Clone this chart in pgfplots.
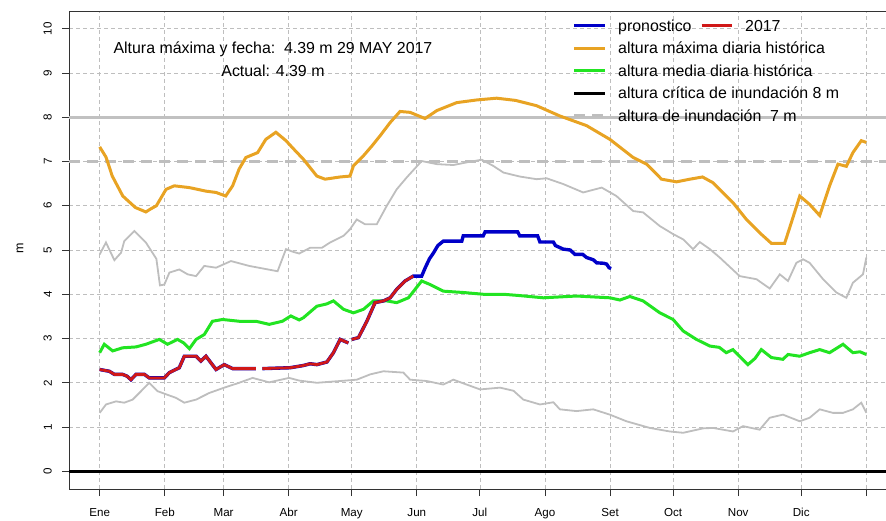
\documentclass[border=0pt]{standalone}
\usepackage{fontspec}
\setmainfont{Liberation Sans}
\usepackage{pgfplots}
\pgfplotsset{compat=1.18}
\definecolor{cOrange}{RGB}{232,163,35}
\definecolor{cGreen}{RGB}{34,228,34}
\definecolor{cBlue}{RGB}{0,0,200}
\definecolor{cRed}{RGB}{208,24,24}
\definecolor{cGray}{RGB}{190,190,190}
\newcommand{\legfont}{\fontsize{15.9}{18}\selectfont}
\newcommand{\tickfont}{\fontsize{11.6}{13}\selectfont}
\begin{document}
\begin{tikzpicture}[x=1pt,y=1pt]
\useasboundingbox (0,0) rectangle (886,520);
\begin{axis}[
  at={(69pt,31pt)}, anchor=south west,
  scale only axis, width=828pt, height=478pt,
  xmin=-14.6, xmax=379.6, ymin=-0.4, ymax=10.4,
  axis line style={black!80, line width=0.8pt},
  xtick={0,31,59,90,120,151,181,212,243,273,304,334,365},
  xticklabels={Ene,Feb,Mar,Abr,May,Jun,Jul,Ago,Set,Oct,Nov,Dic,{}},
  ytick={0,1,2,3,4,5,6,7,8,9,10},
  /pgf/number format/assume math mode=true,
  xtick pos=bottom, ytick pos=left,
  tick align=outside, major tick length=7pt,
  tick style={black!80, line width=0.8pt},
  tick label style={font=\tickfont},
  xticklabel style={anchor=base, inner sep=0pt, yshift=-20pt},
  yticklabel style={xshift=-10pt, rotate=90, anchor=south, inner sep=0pt},
  grid=major,
  grid style={cGray, dash pattern=on 4pt off 3pt, line width=0.7pt},
  ylabel={m},
  ylabel style={at={(axis description cs:-0.0592,0.504)}, anchor=center, font=\fontsize{12.5}{14}\selectfont},
  unbounded coords=jump,
  clip=true,
]
% reference lines
\addplot[black, line width=2.5pt] coordinates {(-14.6,0) (379.6,0)};
\addplot[cGray!95, line width=2.8pt] coordinates {(-14.6,8) (379.6,8)};
\addplot[cGray, line width=2.8pt, dash pattern=on 11pt off 7pt] coordinates {(-14.6,7) (379.6,7)};
% upper gray
\addplot[cGray, line width=1.8pt] coordinates {
(0,4.9)(3,5.17)(7,4.77)(10.2,4.94)(11.7,5.2)(16.5,5.43)(22,5.17)(27,4.8)(28.7,4.2)(30.8,4.22)
(33.2,4.49)(37.9,4.56)(41.9,4.45)(45.9,4.41)(49.8,4.64)(55.4,4.6)(62.5,4.75)(71.2,4.64)(84.7,4.52)
(88.7,5.02)(92,4.96)(95,4.92)(100.2,5.05)(105.8,5.05)(109.7,5.17)(116.1,5.32)(119.2,5.47)(122.4,5.69)
(126.4,5.58)(131.9,5.58)(136.7,6.0)(141.4,6.37)(146.2,6.64)(153.3,7.01)(160.5,6.94)(168.4,6.92)
(174.7,6.98)(181.9,7.04)(187.4,6.9)(192.2,6.75)(200,6.66)(208,6.6)(212.8,6.62)(220.7,6.49)(230.2,6.3)
(239,6.41)(246,6.22)(254,5.88)(258.7,5.85)(266.7,5.54)(273,5.36)(277.8,5.24)(282.5,5.02)(285.7,5.18)
(290.5,5.02)(295.2,4.83)(304.7,4.41)(312.7,4.34)(319,4.13)(323.8,4.45)(327.7,4.3)(331.7,4.71)
(334.9,4.79)(338,4.71)(344.4,4.34)(350.7,4.04)(355.5,3.92)(358.6,4.26)(363.4,4.45)(365,4.83)};
% lower gray
\addplot[cGray, line width=1.8pt] coordinates {
(0,1.32)(3,1.51)(7.8,1.58)(11.7,1.55)(15.7,1.62)(19.7,1.81)(23.6,2.0)(27.6,1.81)(31.6,1.74)(36.3,1.66)
(40.3,1.55)(45.9,1.62)(52.2,1.77)(59.3,1.89)(66.4,2.0)(72.8,2.11)(80.7,2.01)(90.2,2.11)(95,2.05)
(103.4,2.0)(114.5,2.04)(122.4,2.07)(128.8,2.19)(135.1,2.26)(144.6,2.23)(147.8,2.07)(155.7,2.04)
(163.6,1.96)(168.4,2.07)(174.7,1.96)(181.1,1.85)(190.6,1.89)(197,1.82)(201.7,1.62)(209.6,1.51)
(216,1.56)(219.1,1.40)(227,1.36)(235,1.40)(242.9,1.28)(250.8,1.13)(261.9,0.98)(271.4,0.9)(277.8,0.87)
(287.3,0.97)(292,0.98)(301.5,0.9)(306.3,1.02)(314.2,0.94)(319,1.21)(325.3,1.28)(333.3,1.13)(338,1.21)
(342.8,1.4)(349.1,1.32)(353.9,1.32)(358.6,1.4)(362.6,1.55)(365,1.32)};
% max historica
\addplot[cOrange, line width=3pt] coordinates {
(0,7.33)(3,7.1)(6,6.67)(11,6.22)(17,5.96)(22,5.86)(24,5.92)(27,6.0)(31.6,6.37)(35.5,6.45)(42.7,6.41)
(50.6,6.33)(55.4,6.30)(60,6.22)(63.3,6.45)(66.4,6.83)(69.6,7.09)(75.2,7.2)(79.1,7.5)(83.9,7.66)
(88.7,7.47)(92,7.3)(97,7.05)(103.4,6.67)(107.3,6.6)(114.5,6.65)(119.2,6.67)(120.8,6.9)(125.6,7.13)
(129.6,7.35)(133.5,7.58)(138.3,7.88)(143,8.13)(147.8,8.11)(154.9,7.97)(160.5,8.15)(170,8.33)
(179.5,8.39)(189,8.43)(198,8.38)(208,8.26)(219,8.03)(231.8,7.81)(242.9,7.5)(254,7.09)(260.4,6.94)
(267.5,6.6)(274.6,6.54)(281,6.6)(287,6.65)(292,6.52)(301.5,6.07)(307.9,5.69)(314.2,5.39)(319.8,5.15)
(326.1,5.15)(329.3,5.62)(333.3,6.22)(338,6.03)(342.8,5.78)(347.5,6.45)(351.5,6.94)(355.5,6.89)
(358.6,7.2)(362.6,7.47)(365,7.43)};
% media historica
\addplot[cGreen, line width=3pt] coordinates {
(0,2.68)(2.2,2.87)(6.2,2.72)(10.9,2.79)(17.3,2.81)(22,2.87)(28.4,2.98)(32.3,2.87)(37.1,2.98)(40,2.9)
(42.7,2.77)(45.9,2.98)(49.8,3.09)(53.7,3.39)(58.5,3.43)(66.4,3.39)(74.4,3.39)(80.7,3.32)(87,3.39)
(91,3.51)(95,3.42)(97,3.47)(103.4,3.73)(108,3.78)(111.3,3.85)(116.1,3.66)(120.8,3.58)(125.6,3.66)
(130.3,3.85)(136.7,3.85)(141.4,3.81)(147,3.92)(153.3,4.3)(157.3,4.22)(163.6,4.07)(173.1,4.04)
(182.6,4.0)(192.2,4.0)(200,3.97)(211.2,3.92)(227,3.96)(242.9,3.92)(247.7,3.87)(252.4,3.95)(258.7,3.85)
(266.7,3.58)(273,3.43)(277.8,3.17)(284.1,2.98)(290.5,2.83)(295,2.8)(298.3,2.68)(301.5,2.75)(308.6,2.41)
(312,2.55)(315,2.75)(319.8,2.57)(325.3,2.53)(327.7,2.64)(333.3,2.60)(338,2.68)(342.8,2.75)(347.5,2.68)
(353.9,2.87)(358.6,2.68)(362,2.7)(365,2.64)};
% pronostico
\addplot[cBlue, line width=3.4pt] coordinates {
(0,2.30)(4.6,2.26)(7,2.19)(10.9,2.19)(13,2.15)(14.9,2.07)(17.3,2.19)(21.3,2.19)(23.6,2.11)(30.8,2.11)
(33.2,2.23)(37.9,2.34)(40.3,2.6)(45.9,2.6)(48.2,2.49)(50.6,2.6)(55.4,2.3)(59.3,2.41)(63.3,2.32)(74.4,2.32)
(75.5,nan)(77.5,2.32)(90.7,2.34)(97,2.39)(100.2,2.43)(103.4,2.41)(108.2,2.47)(111.3,2.68)(114.5,2.98)
(118.4,2.9)(119.2,nan)(120,2.98)(123.2,3.02)(127.2,3.39)(131.1,3.81)(135.1,3.85)(138.3,3.92)(141.4,4.11)
(145.4,4.3)(149.3,4.41)(153.3,4.41)(155,4.6)(157,4.8)(159,4.94)(161,5.1)(163.6,5.2)(172.4,5.2)
(173.1,5.32)(182.6,5.32)(183.5,5.41)(199,5.41)(200,5.32)(208.5,5.32)(209.6,5.18)(216,5.18)(217,5.1)
(220.7,5.02)(224,5.0)(226.3,4.9)(230,4.9)(231.8,4.83)(235,4.78)(236.6,4.71)(240,4.7)(241.4,4.68)
(242.5,4.6)(243.5,4.58)};
% 2017
\addplot[cRed, line width=2.8pt] coordinates {
(0,2.30)(4.6,2.26)(7,2.19)(10.9,2.19)(13,2.15)(14.9,2.07)(17.3,2.19)(21.3,2.19)(23.6,2.11)(30.8,2.11)
(33.2,2.23)(37.9,2.34)(40.3,2.6)(45.9,2.6)(48.2,2.49)(50.6,2.6)(55.4,2.3)(59.3,2.41)(63.3,2.32)(74.4,2.32)
(75.5,nan)(77.5,2.32)(90.7,2.34)(97,2.39)(100.2,2.43)(103.4,2.41)(108.2,2.47)(111.3,2.68)(114.5,2.98)
(118.4,2.9)(119.2,nan)(120,2.98)(123.2,3.02)(127.2,3.39)(131.1,3.81)(135.1,3.85)(138.3,3.92)(141.4,4.11)
(145.4,4.3)(149.3,4.41)};
% annotation
\node[anchor=base, font=\legfont, inner sep=0pt] at (axis cs:82.5,9.43) {Altura máxima y fecha:\ \ 4.39 m 29 MAY 2017};
\node[anchor=base, font=\legfont, inner sep=0pt] at (axis cs:82.5,8.91) {Actual: 4.39 m};
\end{axis}
% legend
\draw[cBlue, line width=3pt] (574,494.3) -- (605,494.3);
\node[anchor=base west, inner sep=0pt, font=\legfont] at (618,488.6) {pronostico};
\draw[cRed, line width=3pt] (701.7,494.3) -- (731.7,494.3);
\node[anchor=base west, inner sep=0pt, font=\legfont] at (745,488.6) {2017};
\draw[cOrange, line width=3pt] (574,471.8) -- (605,471.8);
\node[anchor=base west, inner sep=0pt, font=\legfont] at (618,466.1) {altura máxima diaria histórica};
\draw[cGreen, line width=3pt] (574,449.3) -- (605,449.3);
\node[anchor=base west, inner sep=0pt, font=\legfont] at (618,443.6) {altura media diaria histórica};
\draw[black, line width=3pt] (574,426.8) -- (605,426.8);
\node[anchor=base west, inner sep=0pt, font=\legfont] at (618,421.1) {altura crítica de inundación 8 m};
\draw[cGray, line width=3pt, dash pattern=on 11pt off 7pt] (574,404.3) -- (605,404.3);
\node[anchor=base west, inner sep=0pt, font=\legfont] at (618,398.6) {altura de inundación\ \ 7 m};
\end{tikzpicture}
\end{document}
